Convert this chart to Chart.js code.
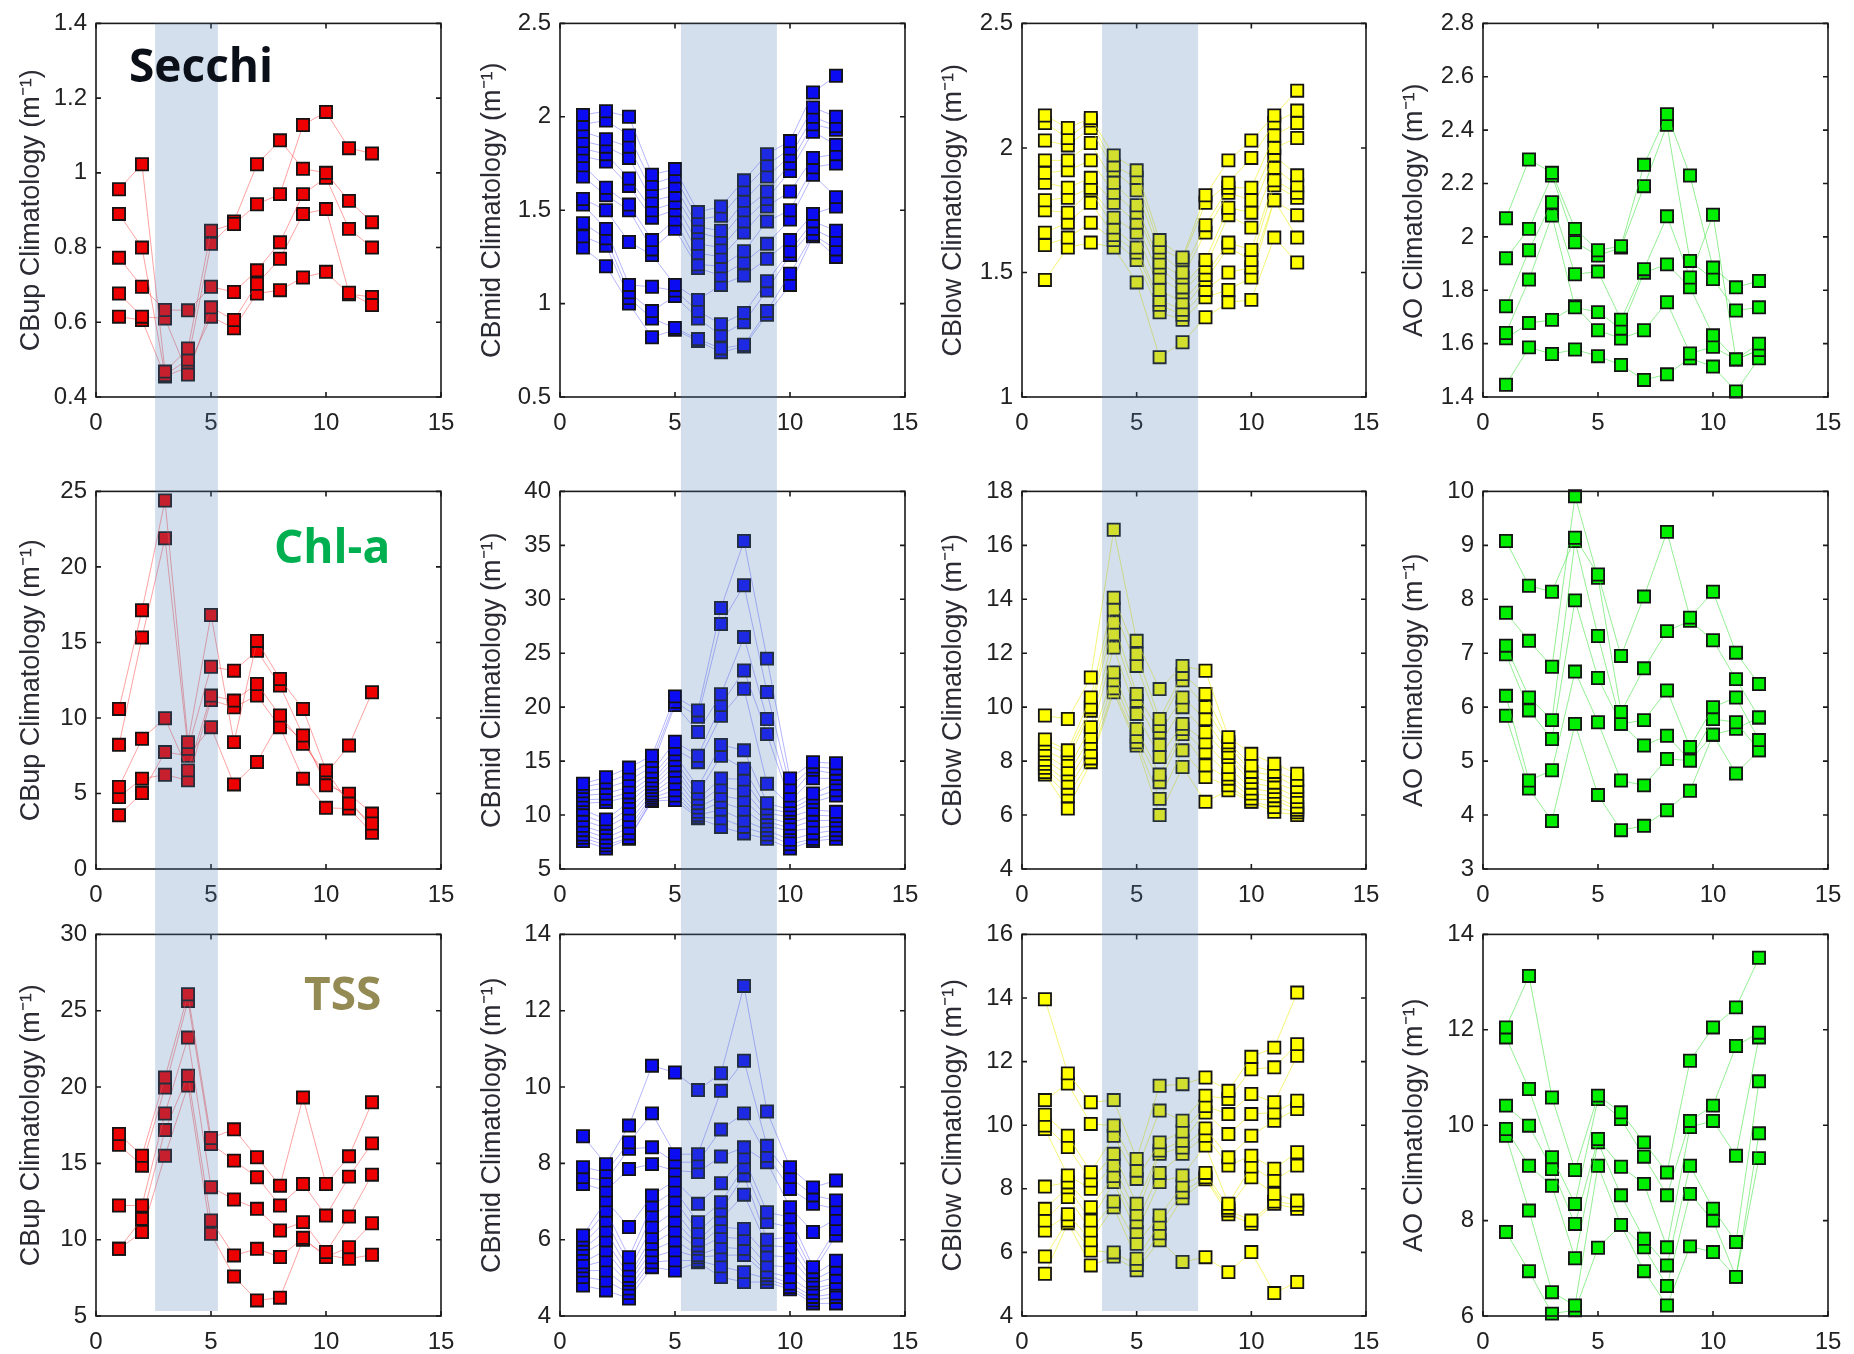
<!DOCTYPE html>
<html>
<head>
<meta charset="utf-8">
<script src="https://cdn.jsdelivr.net/npm/chart.js@4.4.1/dist/chart.umd.min.js"></script>
<style>
  html, body { margin: 0; padding: 0; background: #fff; overflow: hidden; }
  #fig { position: relative; width: 1854px; height: 1354px; }
  #fig canvas { position: absolute; }
  .tag { position: absolute; z-index: 5; font-family: 'Open Sans', sans-serif; font-weight: 700;
         font-size: 46px; line-height: 46px; white-space: nowrap; }
</style>
</head>
<body>
<div id="fig">
  <div class="tag" style="left:129px; top:41px; color:#0b0f18;">Secchi</div>
  <div class="tag" style="left:274px; top:522px; color:#00b050;">Chl-a</div>
  <div class="tag" style="left:304px; top:969px; color:#948a54;">TSS</div>
</div>
<script>
// months on the x axis
const months = [1, 2, 3, 4, 5, 6, 7, 8, 9, 10, 11, 12];

// axis titles per column, tick ranges per panel (row-major)
const colTitles = ['CBup Climatology (m\u207B\u00B9)', 'CBmid Climatology (m\u207B\u00B9)',
                   'CBlow Climatology (m\u207B\u00B9)', 'AO Climatology (m\u207B\u00B9)'];
const yMin  = [0.4, 0.5, 1, 1.4,   0, 5, 4, 3,    5, 4, 4, 6];
const yMax  = [1.4, 2.5, 2.5, 2.8, 25, 40, 18, 10, 30, 14, 16, 14];
const yStep = [0.2, 0.5, 0.5, 0.2, 5, 5, 2, 1,    5, 2, 2, 2];
// shaded season (in months) for the first three columns
const bandMonths = [[2.57, 5.3], [5.26, 9.43], [3.49, 7.68], null];

// ---- Secchi row ----
const cbupSecchi = [
  [0.956, 1.023, 0.468, 0.53, 0.845, 0.863, 0.916, 0.943, 1.128, 1.163, 1.066, 1.052],
  [0.89, 0.80, 0.459, 0.50, 0.81, 0.87, 1.023, 1.087, 1.011, 1.0, 0.925, 0.868],
  [0.773, 0.695, 0.633, 0.632, 0.695, 0.681, 0.739, 0.814, 0.943, 0.987, 0.85, 0.80],
  [0.677, 0.615, 0.61, 0.46, 0.64, 0.606, 0.703, 0.77, 0.890, 0.903, 0.679, 0.646],
  [0.615, 0.606, 0.455, 0.48, 0.615, 0.584, 0.677, 0.686, 0.720, 0.735, 0.675, 0.668]
];
const cbmidSecchi = [
  [2.01, 2.03, 2.00, 1.69, 1.72, 1.49, 1.52, 1.66, 1.80, 1.87, 2.13, 2.22],
  [1.96, 1.98, 1.90, 1.64, 1.68, 1.45, 1.47, 1.61, 1.74, 1.83, 2.05, 2.00],
  [1.92, 1.88, 1.84, 1.60, 1.63, 1.41, 1.39, 1.55, 1.68, 1.79, 2.00, 1.95],
  [1.87, 1.84, 1.78, 1.55, 1.58, 1.38, 1.35, 1.50, 1.60, 1.75, 1.96, 1.93],
  [1.83, 1.80, 1.67, 1.50, 1.54, 1.32, 1.30, 1.44, 1.56, 1.71, 1.92, 1.85],
  [1.79, 1.76, 1.63, 1.46, 1.50, 1.27, 1.25, 1.38, 1.52, 1.60, 1.78, 1.80],
  [1.74, 1.62, 1.53, 1.34, 1.45, 1.21, 1.20, 1.28, 1.44, 1.50, 1.73, 1.75],
  [1.68, 1.58, 1.50, 1.29, 1.40, 1.19, 1.15, 1.22, 1.32, 1.45, 1.69, 1.57],
  [1.56, 1.50, 1.33, 1.26, 1.10, 1.02, 1.10, 1.15, 1.24, 1.34, 1.48, 1.52],
  [1.53, 1.40, 1.10, 1.09, 1.07, 0.96, 0.89, 0.95, 1.12, 1.28, 1.44, 1.39],
  [1.43, 1.35, 1.06, 0.96, 1.04, 0.92, 0.83, 0.90, 1.07, 1.26, 1.40, 1.34],
  [1.36, 1.31, 1.03, 0.92, 0.87, 0.81, 0.76, 0.78, 0.96, 1.16, 1.37, 1.29],
  [1.30, 1.20, 1.00, 0.82, 0.86, 0.80, 0.74, 0.77, 0.94, 1.10, 1.36, 1.25]
];
const cblowSecchi = [
  [2.13, 2.08, 2.12, 1.97, 1.91, 1.63, 1.56, 1.81, 1.95, 2.03, 2.13, 2.23],
  [2.10, 2.04, 2.11, 1.93, 1.88, 1.60, 1.55, 1.78, 1.86, 1.96, 2.10, 2.15],
  [2.03, 2.01, 2.08, 1.91, 1.83, 1.58, 1.50, 1.69, 1.84, 1.84, 2.05, 2.10],
  [1.95, 1.95, 2.02, 1.86, 1.77, 1.54, 1.48, 1.66, 1.82, 1.79, 2.00, 2.04],
  [1.90, 1.91, 1.95, 1.82, 1.74, 1.52, 1.44, 1.55, 1.76, 1.74, 1.97, 1.89],
  [1.86, 1.84, 1.88, 1.78, 1.70, 1.48, 1.42, 1.52, 1.73, 1.68, 1.92, 1.85],
  [1.79, 1.80, 1.84, 1.72, 1.66, 1.43, 1.38, 1.49, 1.62, 1.59, 1.87, 1.82],
  [1.75, 1.74, 1.83, 1.68, 1.60, 1.39, 1.35, 1.47, 1.60, 1.55, 1.85, 1.80],
  [1.66, 1.70, 1.78, 1.65, 1.58, 1.37, 1.33, 1.43, 1.50, 1.52, 1.79, 1.73],
  [1.61, 1.64, 1.70, 1.63, 1.55, 1.34, 1.31, 1.40, 1.43, 1.48, 1.79, 1.64],
  [1.47, 1.60, 1.62, 1.60, 1.46, 1.16, 1.22, 1.32, 1.38, 1.39, 1.64, 1.54]
];
const aoSecchi = [
  [2.07, 2.29, 2.24, 2.03, 1.95, 1.965, 2.27, 2.46, 2.23, 1.885, 1.811, 1.835],
  [1.92, 2.03, 2.23, 1.98, 1.93, 1.96, 2.19, 2.42, 1.91, 1.842, 1.724, 1.736],
  [1.74, 1.95, 2.13, 1.86, 1.87, 1.69, 1.879, 2.077, 1.848, 2.083, 1.541, 1.60],
  [1.64, 1.84, 2.08, 1.736, 1.718, 1.656, 1.866, 1.897, 1.811, 1.631, 1.541, 1.576],
  [1.62, 1.677, 1.689, 1.74, 1.65, 1.619, 1.65, 1.755, 1.563, 1.588, 1.54, 1.576],
  [1.446, 1.586, 1.561, 1.578, 1.553, 1.52, 1.464, 1.485, 1.545, 1.514, 1.421, 1.545]
];

// ---- Chl-a row ----
const cbupChla = [
  [10.6, 17.13, 24.4, 8.4, 16.82, 8.4, 15.1, 12.58, 10.6, 6.53, 4.33, 3.01],
  [8.22, 15.33, 21.9, 7.96, 13.39, 13.13, 14.45, 12.14, 8.84, 5.54, 4.99, 3.67],
  [5.43, 8.62, 9.98, 6.53, 11.48, 11.15, 12.25, 10.16, 8.29, 6.3, 8.18, 11.7],
  [4.77, 5.98, 6.24, 5.87, 11.19, 10.71, 11.48, 9.39, 5.98, 4.05, 4.0, 2.4],
  [3.56, 5.03, 7.74, 7.5, 9.39, 5.6, 7.08, 9.8, 8.5, 5.9, 4.6, 2.7]
];
const cbmidChla = [
  [12.9, 13.5, 14.4, 15.5, 21.0, 19.7, 29.2, 35.4, 24.5, 13.4, 14.9, 14.8],
  [12.6, 13.0, 13.8, 15.0, 20.5, 19.1, 27.7, 31.3, 21.4, 12.6, 14.5, 14.3],
  [12.2, 12.5, 13.2, 14.5, 20.2, 17.7, 21.2, 26.5, 18.9, 11.8, 14.2, 13.8],
  [11.8, 12.0, 12.6, 14.0, 16.8, 15.5, 20.2, 23.4, 17.5, 11.3, 13.4, 13.4],
  [11.4, 11.5, 12.1, 13.6, 16.1, 14.9, 19.2, 21.7, 12.9, 10.9, 12.0, 12.9],
  [11.1, 11.2, 11.7, 13.2, 15.6, 12.6, 16.5, 16.0, 11.1, 10.5, 11.6, 12.3],
  [10.5, 9.6, 11.2, 12.9, 15.1, 12.0, 15.5, 14.3, 10.6, 10.2, 11.2, 11.8],
  [10.0, 9.2, 10.6, 12.6, 14.6, 11.5, 13.4, 13.3, 10.2, 9.8, 10.5, 10.3],
  [9.5, 8.8, 10.0, 12.3, 14.1, 11.1, 12.6, 12.3, 9.8, 9.2, 10.0, 9.9],
  [9.0, 8.3, 9.4, 12.0, 13.5, 10.7, 11.8, 11.4, 9.4, 8.8, 9.5, 9.5],
  [8.6, 7.9, 8.8, 11.8, 12.9, 10.3, 11.2, 10.5, 9.0, 8.5, 8.8, 9.0],
  [8.2, 7.5, 8.3, 11.6, 12.3, 10.0, 10.5, 9.5, 8.6, 7.7, 8.3, 8.6],
  [7.9, 7.2, 7.9, 11.4, 11.8, 9.8, 9.7, 8.9, 8.2, 7.3, 7.8, 8.2],
  [7.6, 6.9, 7.8, 11.3, 11.4, 9.7, 8.9, 8.3, 7.8, 6.9, 7.6, 7.8]
];
const cblowChla = [
  [9.69, 9.56, 11.1, 16.58, 12.46, 10.67, 11.53, 11.35, 8.89, 8.27, 7.9, 7.53],
  [8.8, 8.4, 10.36, 14.06, 11.97, 9.56, 11.23, 10.49, 8.7, 7.84, 7.6, 7.3],
  [8.64, 8.27, 10.0, 13.63, 11.53, 9.3, 11.0, 10.0, 8.58, 7.6, 7.47, 7.04],
  [8.4, 8.0, 9.87, 13.14, 10.49, 9.07, 10.36, 9.56, 8.3, 7.41, 7.2, 6.9],
  [8.27, 7.7, 9.26, 12.7, 10.24, 8.6, 10.0, 9.07, 8.15, 7.2, 7.04, 6.67],
  [8.05, 7.5, 8.9, 12.21, 9.75, 8.15, 9.38, 8.7, 7.78, 6.98, 6.86, 6.5],
  [7.9, 7.2, 8.64, 11.29, 9.19, 7.5, 9.19, 8.33, 7.5, 6.8, 6.7, 6.3],
  [7.75, 6.98, 8.33, 11.0, 8.9, 7.22, 9.0, 7.84, 7.35, 6.61, 6.55, 6.2],
  [7.59, 6.7, 8.1, 10.7, 8.7, 6.6, 8.4, 7.41, 7.1, 6.5, 6.3, 6.1],
  [7.5, 6.24, 7.96, 10.55, 8.58, 6.0, 7.78, 6.49, 6.92, 6.49, 6.12, 6.0]
];
const aoChla = [
  [9.08, 8.25, 8.14, 9.14, 8.46, 6.95, 8.05, 9.25, 7.66, 8.14, 7.01, 6.43],
  [7.75, 7.23, 6.75, 9.91, 8.40, 5.91, 6.72, 7.41, 7.60, 7.24, 6.52, 5.81],
  [7.14, 6.18, 5.76, 9.08, 7.32, 5.69, 5.76, 6.31, 5.26, 6.00, 6.18, 5.39],
  [6.98, 5.94, 5.41, 7.98, 6.54, 5.69, 5.29, 5.47, 5.01, 5.78, 5.72, 5.20],
  [6.21, 4.64, 4.83, 6.66, 5.72, 4.64, 4.55, 5.04, 5.01, 5.49, 5.60, 5.81],
  [5.84, 4.49, 3.89, 5.69, 4.37, 3.72, 3.80, 4.09, 4.45, 5.49, 4.77, 5.20]
];

// ---- TSS row ----
const cbupTss = [
  [16.92, 15.5, 20.63, 26.08, 16.66, 17.23, 15.4, 13.54, 19.32, 13.65, 15.46, 19.0],
  [16.22, 14.85, 19.97, 25.64, 16.27, 15.18, 14.09, 12.24, 13.65, 11.58, 14.13, 16.31],
  [12.24, 12.24, 18.27, 23.24, 13.44, 12.63, 12.02, 10.6, 11.15, 9.19, 11.52, 14.26],
  [9.4, 11.36, 17.18, 20.74, 11.26, 8.97, 9.4, 8.86, 10.12, 8.86, 9.51, 11.08],
  [9.4, 10.5, 15.5, 20.1, 10.38, 7.59, 6.02, 6.2, 10.0, 9.0, 8.75, 9.01]
];
const cbmidTss = [
  [8.71, 7.98, 8.99, 10.56, 10.38, 9.92, 10.36, 12.65, 9.36, 7.90, 7.37, 7.55],
  [7.90, 7.77, 8.55, 9.31, 8.24, 8.24, 9.90, 10.69, 8.46, 7.64, 7.16, 7.03],
  [7.64, 7.55, 8.38, 8.42, 8.03, 8.03, 8.89, 9.31, 8.20, 7.33, 6.94, 6.81],
  [7.46, 7.29, 7.85, 7.98, 7.81, 7.77, 8.18, 8.42, 8.03, 6.85, 6.20, 6.54],
  [6.11, 7.03, 6.33, 7.16, 7.55, 6.94, 7.48, 8.16, 6.72, 6.59, 5.28, 6.28],
  [6.00, 6.76, 5.54, 6.90, 7.29, 6.46, 6.98, 7.90, 6.46, 6.33, 5.15, 6.11],
  [5.89, 6.50, 5.35, 6.63, 7.03, 6.20, 6.76, 7.68, 6.00, 6.07, 5.06, 5.45],
  [5.76, 6.24, 5.20, 6.33, 6.76, 5.98, 6.54, 7.18, 5.85, 5.80, 4.93, 5.24],
  [5.63, 5.98, 5.05, 6.07, 6.50, 5.85, 6.33, 6.28, 5.59, 5.54, 4.85, 5.02],
  [5.41, 5.72, 4.95, 5.89, 6.24, 5.76, 6.07, 6.02, 5.33, 5.28, 4.72, 4.85],
  [5.30, 5.46, 4.85, 5.72, 5.98, 5.60, 5.80, 5.76, 5.15, 5.02, 4.60, 4.80],
  [5.19, 5.19, 4.72, 5.54, 5.72, 5.54, 5.59, 5.60, 5.07, 4.85, 4.50, 4.59],
  [5.02, 4.93, 4.60, 5.41, 5.46, 5.45, 5.30, 5.15, 4.98, 4.76, 4.41, 4.50],
  [4.80, 4.67, 4.46, 5.28, 5.19, 5.41, 5.02, 4.89, 4.89, 4.70, 4.33, 4.33]
];
const cblowTss = [
  [13.96, 11.63, 10.72, 10.79, 8.94, 11.24, 11.29, 11.5, 11.08, 12.15, 12.44, 14.17],
  [10.79, 11.31, 10.04, 9.99, 8.57, 10.46, 10.14, 10.93, 10.82, 11.76, 11.82, 12.55],
  [10.33, 9.67, 8.52, 9.67, 8.31, 9.46, 9.8, 10.6, 10.35, 10.98, 10.72, 12.18],
  [9.99, 9.31, 8.26, 9.1, 7.53, 9.2, 9.51, 10.4, 9.72, 10.35, 10.4, 10.77],
  [9.88, 8.42, 8.0, 8.73, 7.2, 9.1, 9.3, 9.9, 8.99, 9.67, 10.14, 10.51],
  [8.07, 8.2, 7.42, 8.4, 6.95, 8.5, 9.1, 9.67, 8.73, 9.04, 8.63, 9.15],
  [7.37, 8.05, 7.0, 8.21, 6.64, 8.21, 8.42, 9.36, 7.53, 8.7, 8.26, 8.73],
  [7.0, 7.74, 6.69, 7.6, 6.27, 7.16, 8.1, 8.5, 7.4, 8.36, 7.84, 7.63],
  [6.69, 7.2, 6.38, 7.42, 5.8, 6.9, 7.89, 8.36, 7.32, 7.0, 7.6, 7.5],
  [5.87, 7.0, 6.06, 6.0, 5.6, 6.6, 7.7, 8.3, 7.2, 6.9, 7.53, 7.37],
  [5.33, 6.92, 5.59, 5.87, 5.44, 6.38, 5.7, 5.85, 5.38, 6.01, 4.72, 5.07]
];
const aoTss = [
  [12.05, 13.13, 10.58, 9.06, 10.62, 10.27, 9.64, 9.01, 11.35, 12.05, 12.47, 13.51],
  [11.84, 10.76, 9.33, 8.35, 10.55, 10.13, 9.34, 8.53, 10.09, 10.41, 11.66, 11.94],
  [10.41, 9.99, 9.08, 7.93, 9.71, 9.13, 8.77, 7.44, 9.96, 10.09, 9.36, 11.84],
  [9.92, 9.15, 8.73, 7.21, 9.64, 8.53, 7.62, 7.06, 9.15, 8.25, 7.55, 10.92],
  [9.78, 8.21, 6.5, 6.22, 9.15, 7.91, 7.44, 6.63, 8.56, 8.0, 6.82, 9.83],
  [7.76, 6.94, 6.05, 6.12, 7.43, 7.91, 6.94, 6.22, 7.46, 7.34, 6.82, 9.31]
];

const panels = [
  cbupSecchi, cbmidSecchi, cblowSecchi, aoSecchi,
  cbupChla, cbmidChla, cblowChla, aoChla,
  cbupTss, cbmidTss, cblowTss, aoTss
];

// layout of the figure (pixels)
const cellX = [0, 461, 922, 1383];
const colLeft = [96, 560, 1022, 1483];
const colRight = [441, 905, 1366, 1828];
const rowTop = [22, 490, 933];
const rowBottom = [397, 869, 1316];
const topPad = 22;

const markerColor = ['#ee0000', '#0c0cf2', '#ffff00', '#00ee00'];
const lineColor = ['rgba(255,70,70,0.5)', 'rgba(60,60,255,0.38)', 'rgba(238,238,30,0.6)', 'rgba(60,225,60,0.55)'];
const FONT = "'Liberation Sans', Arial, sans-serif";

const boxPlugin = {
  id: 'box',
  afterDatasetsDraw(chart) {
    const { ctx, chartArea: a, scales: { x, y } } = chart;
    ctx.save();
    ctx.strokeStyle = '#1a1a1a';
    ctx.lineWidth = 1.6;
    ctx.strokeRect(a.left, a.top, a.right - a.left, a.bottom - a.top);
    ctx.beginPath();
    x.ticks.forEach(t => {
      const px = x.getPixelForValue(t.value);
      ctx.moveTo(px, a.bottom); ctx.lineTo(px, a.bottom - 5);
      ctx.moveTo(px, a.top); ctx.lineTo(px, a.top + 5);
    });
    y.ticks.forEach(t => {
      const py = y.getPixelForValue(t.value);
      ctx.moveTo(a.left, py); ctx.lineTo(a.left + 5, py);
      ctx.moveTo(a.right, py); ctx.lineTo(a.right - 5, py);
    });
    ctx.stroke();
    ctx.restore();
  },
  afterDraw(chart, args, opts) {
    if (!opts.band) return;
    const { ctx, chartArea: a, scales: { x } } = chart;
    const x0 = x.getPixelForValue(opts.band[0]);
    const x1 = x.getPixelForValue(opts.band[1]);
    const y0 = opts.row === 0 ? a.top : 0;
    const y1 = opts.row === 2 ? a.bottom - 5 : chart.height;
    ctx.save();
    ctx.fillStyle = 'rgba(79,127,183,0.25)';
    ctx.fillRect(x0, y0, x1 - x0, y1 - y0);
    ctx.restore();
  }
};

const fig = document.getElementById('fig');

for (let r = 0; r < 3; r++) {
  for (let c = 0; c < 4; c++) {
    const k = r * 4 + c;
    const canvasTop = rowTop[r] - topPad;
    const canvasH = r < 2 ? (rowTop[r + 1] - topPad) - canvasTop : 1354 - canvasTop + 10;
    const plotH = rowBottom[r] - rowTop[r];
    const canvasW = colRight[c] - cellX[c] + 30;
    const yAxisW = colLeft[c] - cellX[c];
    const xAxisH = canvasH - topPad - plotH;

    const cv = document.createElement('canvas');
    cv.width = canvasW; cv.height = canvasH;
    cv.style.left = cellX[c] + 'px'; cv.style.top = canvasTop + 'px';
    cv.style.width = canvasW + 'px'; cv.style.height = canvasH + 'px';
    fig.appendChild(cv);

    const datasets = panels[k].map(series => ({
      data: series.map((v, i) => ({ x: months[i], y: v })),
      borderColor: lineColor[c],
      borderWidth: 1,
      pointStyle: 'rect',
      pointRadius: 8.6,
      pointBackgroundColor: markerColor[c],
      pointBorderColor: '#141414',
      pointBorderWidth: 1.8,
      tension: 0,
      clip: false
    }));

    new Chart(cv, {
      type: 'line',
      data: { datasets },
      plugins: [boxPlugin],
      options: {
        responsive: false,
        animation: false,
        events: [],
        layout: { padding: { top: topPad, right: 30, left: 0, bottom: 0 } },
        plugins: {
          legend: { display: false },
          tooltip: { enabled: false },
          box: { band: bandMonths[c], row: r }
        },
        scales: {
          x: {
            type: 'linear', min: 0, max: 15,
            grid: { display: false, drawTicks: false },
            border: { display: false },
            ticks: { stepSize: 5, padding: 12, color: '#222', font: { family: FONT, size: 24 } },
            afterFit: s => { s.height = xAxisH; }
          },
          y: {
            type: 'linear', min: yMin[k], max: yMax[k],
            grid: { display: false, drawTicks: false },
            border: { display: false },
            ticks: {
              stepSize: yStep[k], padding: 9, color: '#222',
              font: { family: FONT, size: 24 },
              callback: v => String(+v.toFixed(2))
            },
            title: {
              display: true, text: colTitles[c], color: '#2b2b33',
              font: { family: FONT, size: 27 }, padding: { top: 15, bottom: 0 }
            },
            afterFit: s => { s.width = yAxisW; }
          }
        }
      }
    });
  }
}
</script>
</body>
</html>
